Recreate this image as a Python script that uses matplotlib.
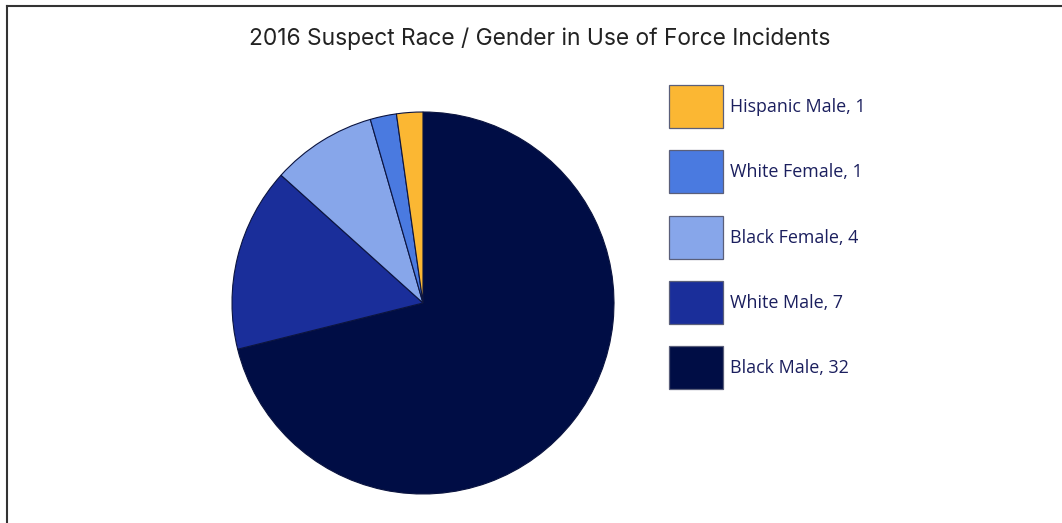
import matplotlib.pyplot as plt
from matplotlib.lines import Line2D
from matplotlib.patches import Rectangle

# Data (slice order: clockwise from 12 o'clock)
labels = ['Black Male', 'White Male', 'Black Female', 'White Female', 'Hispanic Male']
counts = [32, 7, 4, 1, 1]
colors = ['#000d45', '#1a2e9a', '#87a6ea', '#4a7ae0', '#fbb733']

W, H = 1062, 523
fig = plt.figure(figsize=(W / 100, H / 100), dpi=100)

# Pie axes, placed in pixel terms
cx, cy, r = 423, 303, 191
ax = fig.add_axes([(cx - r) / W, (H - cy - r) / H, 2 * r / W, 2 * r / H])
ax.pie(counts, colors=colors, startangle=90, counterclock=False, radius=1,
       wedgeprops=dict(edgecolor='#0b1440', linewidth=0.8))
ax.set_xlim(-1, 1)
ax.set_ylim(-1, 1)
ax.set_aspect('equal')
ax.axis('off')

# Title
fig.text(540 / W, 1 - 39 / H, '2016 Suspect Race / Gender in Use of Force Incidents',
         ha='center', va='center', fontsize=16.4, family='Inter', color='#222222')

# Legend drawn by hand in a pixel-coordinate axes (reverse order)
lax = fig.add_axes([0, 0, 1, 1])
lax.set_xlim(0, W)
lax.set_ylim(H, 0)
lax.axis('off')
for i, (lab, val, col) in enumerate(zip(labels[::-1], counts[::-1], colors[::-1])):
    top = 85 + i * 65.3
    lax.add_patch(Rectangle((669, top), 54, 43, facecolor=col,
                            edgecolor='#5a5f7a', linewidth=0.9))
    lax.text(730, top + 22, f'{lab}, {val}', ha='left', va='center',
             fontsize=12.9, family='Open Sans', color='#1b1f5e')

# Partial frame
fig.add_artist(Line2D([7 / W, 1], [1 - 6 / H, 1 - 6 / H], transform=fig.transFigure,
                      color='#333333', linewidth=1.5))
fig.add_artist(Line2D([7 / W, 7 / W], [0, 1 - 6 / H], transform=fig.transFigure,
                      color='#333333', linewidth=1.5))

fig.savefig('out.png', dpi=100)
plt.close(fig)
